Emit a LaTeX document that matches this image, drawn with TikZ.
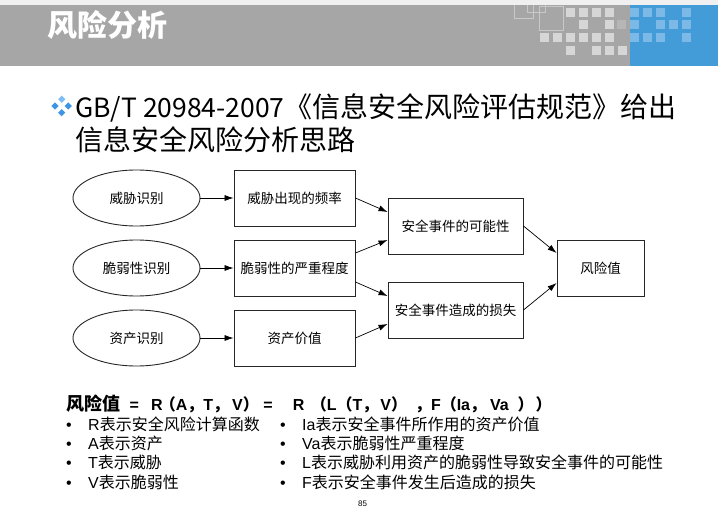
\documentclass[tikz,border=0pt]{standalone}
\usepackage{fontspec}
\setmainfont{Liberation Sans}
\newfontfamily\cjk{Noto Sans CJK SC}
\usetikzlibrary{shapes.geometric,arrows.meta,calc}
\definecolor{bandlight}{HTML}{F0F0F0}
\definecolor{hdrgray}{HTML}{A6A6A6}
\definecolor{hdrblue}{HTML}{439CD8}
\definecolor{sqgray}{HTML}{D6D6D6}
\definecolor{sqdark}{HTML}{B6B6B6}
\definecolor{sqblue}{HTML}{7DB9E6}
\definecolor{sqline}{HTML}{C8C8C8}
\definecolor{gemblue}{HTML}{3E95E6}
\definecolor{gemlight}{HTML}{7FBDF2}
\newcommand\zh[1]{{\cjk #1}}
% bold CJK word at the head of the formula
\newcommand\zhb[1]{{\cjk\bfseries\fontsize{18}{20}\selectfont #1}}
% full-width punctuation of the formula
\newcommand\pz[1]{{\cjk\bfseries #1}}
\newcommand\hs[1]{\hspace{#1pt}}
\begin{document}
\begin{tikzpicture}[x=1pt,y=-1pt,
  sq/.style={fill=sqgray},
  sqd/.style={fill=sqdark},
  sqb/.style={fill=sqblue},
  oval/.style={ellipse,draw=black!85,line width=0.9pt,minimum width=127pt,minimum height=56pt,inner sep=0pt,font=\cjk\fontsize{13.5}{16}\selectfont},
  stepbox/.style={rectangle,draw=black!85,line width=0.9pt,minimum height=56pt,inner sep=0pt,font=\cjk\fontsize{13.5}{16}\selectfont},
  link/.style={line width=0.7pt,-{Latex[length=9pt,width=6pt]}},
  txt/.style={inner sep=0pt,anchor=west},
  item/.style={inner sep=0pt,anchor=base west,font=\fontsize{16}{18}\selectfont}
]
\path[use as bounding box] (0,0) rectangle (718,516);

% header band
\fill[bandlight] (0,0) rectangle (718,5);
\fill[hdrgray] (0,5) rectangle (718,66);
\fill[hdrblue] (630,5) rectangle (718,66);
% outlined squares
\draw[sqline,line width=1pt] (514,5) -- (514,19) -- (533,19) -- (533,5);
\draw[sqline,line width=1pt] (527,5) -- (527,13) -- (545,13) -- (545,5);
\draw[sqline,line width=1pt] (539,7) rectangle (563,31);
% gray squares
\foreach \x in {566,579,592,605} \fill[sq] (\x,8) rectangle +(9,9);
\foreach \x in {579,605} \fill[sq] (\x,20) rectangle +(9,9);
\fill[sqd] (617,20) rectangle +(9,9);
\foreach \x in {540,553,566,579,592,605} \fill[sq] (\x,33) rectangle +(9,9);
\foreach \x in {566,592,605,618} \fill[sq] (\x,46) rectangle +(9,9);
% blue squares
\foreach \x in {630,643,656,682} \fill[sqb] (\x,8) rectangle +(9,9);
\foreach \x in {630,656,669,682} \fill[sqb] (\x,20) rectangle +(9,9);
\foreach \x in {630,643,656,682} \fill[sqb] (\x,33) rectangle +(9,9);

% title
\node[txt,text=white,font=\cjk\bfseries\fontsize{30}{34}\selectfont] (title) at (47,25) {风险分析};

% headline bullet
\foreach \cx/\cy/\c in {61.7/99.3/gemlight,55/106/gemblue,68.3/106/gemblue,61.7/112.7/gemblue}
  \fill[\c] (\cx,\cy-3.6) -- (\cx+3.6,\cy) -- (\cx,\cy+3.6) -- (\cx-3.6,\cy) -- cycle;
\node[txt,font=\cjk\fontsize{28}{31}\selectfont] (head1) at (75,108) {{\fontsize{26.5}{31}\selectfont GB/T 20984-2007}《信息安全风险评估规范》给出};
\node[txt,font=\cjk\fontsize{28}{31}\selectfont] (head2) at (75,140) {信息安全风险分析思路};

% diagram
\node[oval] (e1) at (136.5,198) {威胁识别};
\node[oval] (e2) at (136.5,268) {脆弱性识别};
\node[oval] (e3) at (136.5,338) {资产识别};
\node[stepbox,minimum width=121pt] (b1) at (294.5,198) {威胁出现的频率};
\node[stepbox,minimum width=121pt] (b2) at (294.5,268) {脆弱性的严重程度};
\node[stepbox,minimum width=121pt] (b3) at (294.5,338) {资产价值};
\node[stepbox,minimum width=135pt] (pa) at (455.5,226) {安全事件的可能性};
\node[stepbox,minimum width=135pt] (pb) at (455.5,310) {安全事件造成的损失};
\node[stepbox,minimum width=87pt] (rv) at (600.5,268) {风险值};

\draw[link] (e1.east) -- (b1.west);
\draw[link] (e2.east) -- (b2.west);
\draw[link] (e3.east) -- (b3.west);
\draw[link] (b1.east) -- ($(pa.west)+(0,-14)$);
\draw[link] ($(b2.east)+(0,-15)$) -- ($(pa.west)+(0,14)$);
\draw[link] ($(b2.east)+(0,14)$) -- ($(pb.west)+(0,-14)$);
\draw[link] (b3.east) -- ($(pb.west)+(0,14)$);
\draw[link] (pa.east) -- ($(rv.west)+(0,-15)$);
\draw[link] (pb.east) -- ($(rv.west)+(0,15)$);

% formula
\node[txt,font=\bfseries\fontsize{16}{20}\selectfont] (formula) at (66,404)
  {\zhb{风险值}\hs{9.4}={}\hs{12.3}R\hs{-3}\pz{（}A\pz{，}T\pz{，}\hs{3}V\pz{）}\hs{4.7}={}\hs{20}R\hs{6.4}\pz{（}L\pz{（}T\pz{，}\hs{2}V\pz{）}\hs{8}\pz{，}F\pz{（}Ia\pz{，}\hs{4}Va\hs{8.8}\pz{）}\hs{2}\pz{）}};

% definitions
\foreach \n/\y in {1/430,2/449,3/468,4/488} {
  \node[item] (bl\n) at (66,\y) {•};
  \node[item] (br\n) at (280,\y) {•};
}
\node[item] (l1) at (88,430) {R\zh{表示安全风险计算函数}};
\node[item] (l2) at (88,449) {A\zh{表示资产}};
\node[item] (l3) at (88,468) {T\zh{表示威胁}};
\node[item] (l4) at (88,488) {V\zh{表示脆弱性}};
\node[item] (r1) at (302,430) {Ia\zh{表示安全事件所作用的资产价值}};
\node[item] (r2) at (302,449) {Va\zh{表示脆弱性严重程度}};
\node[item] (r3) at (302,468) {L\zh{表示威胁利用资产的脆弱性导致安全事件的可能性}};
\node[item] (r4) at (302,488) {F\zh{表示安全事件发生后造成的损失}};

% page number
\node[inner sep=0pt,font=\fontsize{8}{9}\selectfont] (pg) at (362.5,504) {85};
\end{tikzpicture}
\end{document}
